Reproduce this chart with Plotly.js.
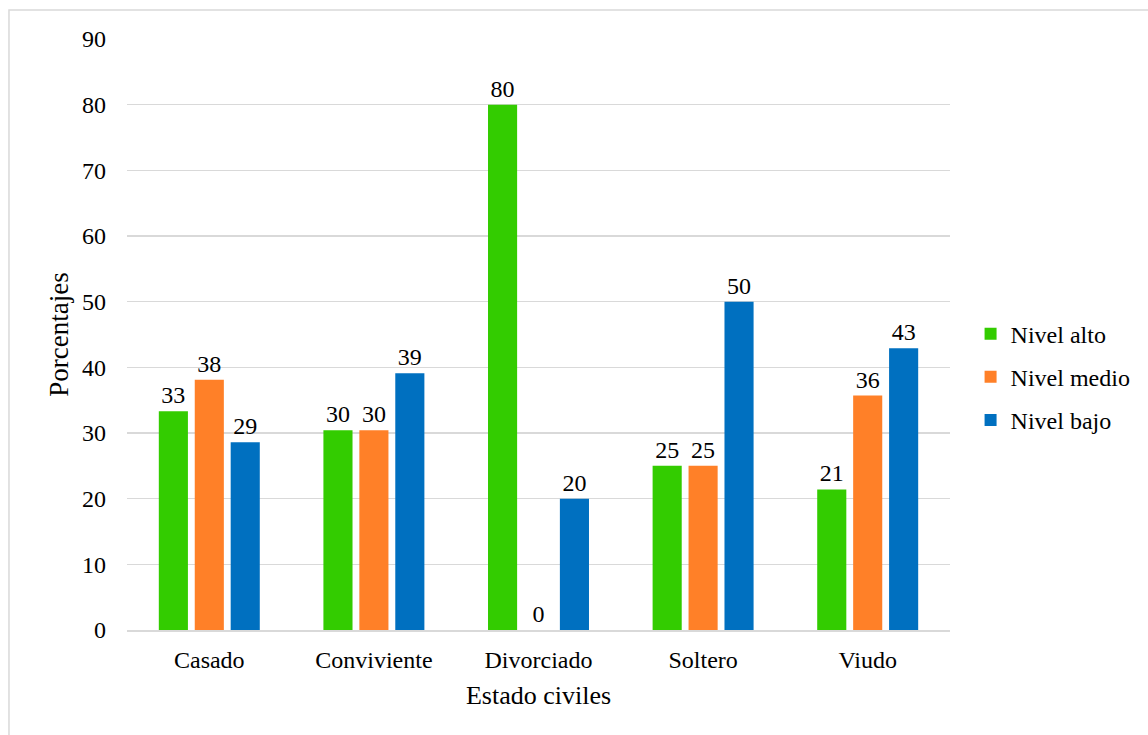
<!DOCTYPE html>
<html>
<head>
<meta charset="utf-8">
<script src="https://cdn.plot.ly/plotly-3.0.1.min.js"></script>
<style>
html,body{margin:0;padding:0;background:#fff;}
#chart{width:1148px;height:735px;}
</style>
</head>
<body>
<div id="chart"></div>
<script>
const categories = ["Casado", "Conviviente", "Divorciado", "Soltero", "Viudo"];
const nivelAlto  = [33.3, 30.4, 80, 25, 21.4];
const nivelMedio = [38.1, 30.4, 0, 25, 35.7];
const nivelBajo  = [28.6, 39.1, 20, 50, 42.9];
const seriesNames = ["Nivel alto", "Nivel medio", "Nivel bajo"];
const yTicks = [0, 10, 20, 30, 40, 50, 60, 70, 80, 90];

const colors = ["#33CC00", "#FF8028", "#0070C0"];
const font = "Liberation Serif, Times New Roman, serif";

const data = [nivelAlto, nivelMedio, nivelBajo].map((vals, i) => ({
  type: "bar",
  name: seriesNames[i],
  x: categories,
  y: vals,
  marker: {color: colors[i]},
  texttemplate: "%{y:.0f}",
  textposition: "outside",
  cliponaxis: false,
  textfont: {family: font, size: 24, color: "#000"},
  legendgroup: "g" + i,
  hoverinfo: "x+y"
}));

const layout = {
  width: 1148,
  height: 735,
  margin: {l: 127, r: 198, t: 39, b: 105, autoexpand: false},
  paper_bgcolor: "#fff",
  plot_bgcolor: "#fff",
  font: {family: font, size: 24, color: "#000"},
  barmode: "group",
  bargap: 0.345,
  bargroupgap: 0.19,
  showlegend: true,
  legend: {
    x: 1.025, y: 0.428, xanchor: "left", yanchor: "middle",
    font: {family: font, size: 24, color: "#000"},
    tracegroupgap: 9,
    traceorder: "grouped",
    itemwidth: 30
  },
  xaxis: {
    type: "category",
    showgrid: false,
    showline: true,
    linecolor: "#d9d9d9",
    linewidth: 1.5,
    ticks: "",
    tickfont: {family: font, size: 24},
    ticklabelstandoff: 8,
    title: {text: "Estado civiles", font: {family: font, size: 26}, standoff: 13}
  },
  yaxis: {
    range: [0, 90],
    tickvals: yTicks,
    ticktext: yTicks.map(String),
    showgrid: true,
    gridcolor: "#d9d9d9",
    gridwidth: 1.3,
    zeroline: false,
    showline: false,
    ticks: "",
    tickfont: {family: font, size: 24},
    ticklabelstandoff: 20,
    title: {text: "Porcentajes", font: {family: font, size: 27}, standoff: 5}
  },
  shapes: [{
    type: "rect", xref: "paper", yref: "paper",
    x0: -0.1434, x1: 1.25, y0: -0.2, y1: 1.049,
    line: {color: "#d9d9d9", width: 1.5},
    fillcolor: "rgba(0,0,0,0)",
    layer: "below"
  }]
};

Plotly.newPlot("chart", data, layout, {displayModeBar: false, staticPlot: true});
</script>
</body>
</html>
